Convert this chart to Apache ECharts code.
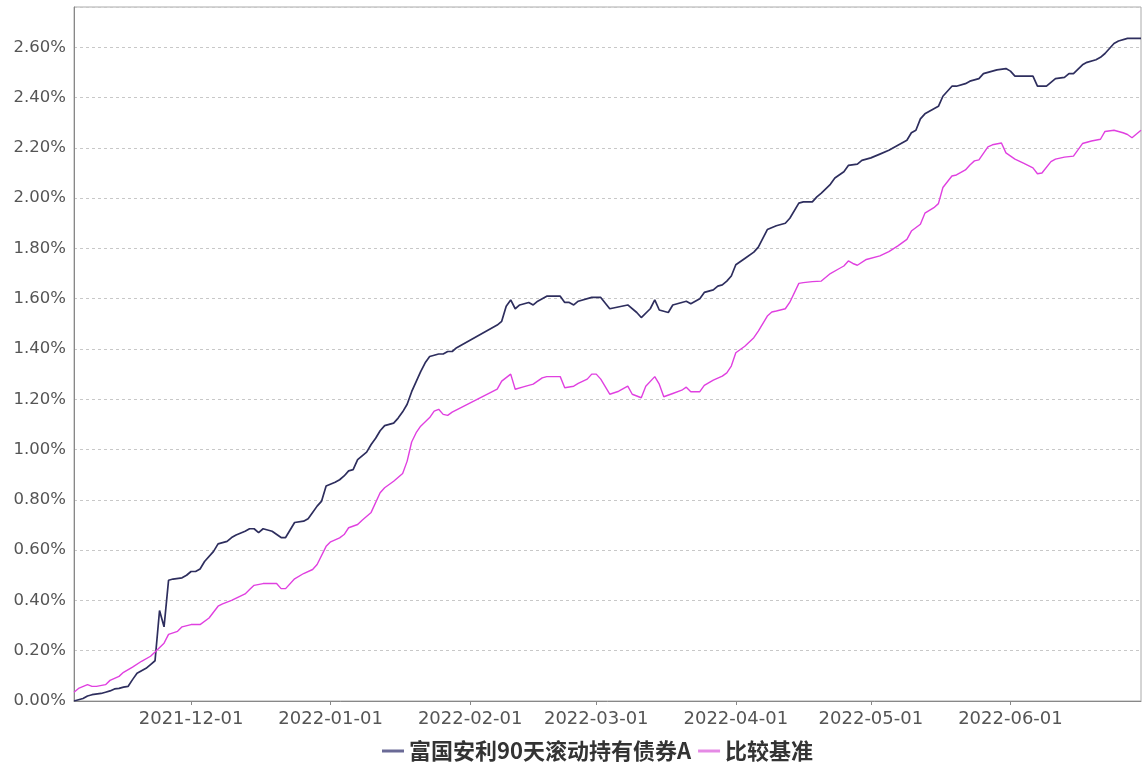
<!DOCTYPE html>
<html>
<head>
<meta charset="utf-8">
<script src="https://cdn.jsdelivr.net/npm/echarts@6/dist/echarts.min.js"></script>
<style>
  html, body { margin: 0; padding: 0; background: #fff; }
  #chart { width: 1145px; height: 764px; }
</style>
</head>
<body>
<div id="chart"></div>
<script>
// series names
const fundName = "富国安利90天滚动持有债券A";
const benchName = "比较基准";

// 富国安利 cumulative return, %
const fundDates = [
  "2021-11-05","2021-11-07","2021-11-08","2021-11-09","2021-11-11","2021-11-12","2021-11-13","2021-11-14",
  "2021-11-15","2021-11-16","2021-11-17","2021-11-18","2021-11-19","2021-11-21","2021-11-22","2021-11-23",
  "2021-11-24","2021-11-25","2021-11-26","2021-11-27","2021-11-29","2021-11-30","2021-12-01","2021-12-02",
  "2021-12-03","2021-12-04","2021-12-06","2021-12-07","2021-12-08","2021-12-09","2021-12-10","2021-12-11",
  "2021-12-13","2021-12-14","2021-12-15","2021-12-16","2021-12-17","2021-12-18","2021-12-19","2021-12-21",
  "2021-12-22","2021-12-24","2021-12-26","2021-12-27","2021-12-28","2021-12-29","2021-12-30","2021-12-31",
  "2022-01-02","2022-01-03","2022-01-04","2022-01-05","2022-01-06","2022-01-07","2022-01-09","2022-01-10",
  "2022-01-11","2022-01-12","2022-01-13","2022-01-15","2022-01-16","2022-01-17","2022-01-18","2022-01-19",
  "2022-01-20","2022-01-21","2022-01-22","2022-01-23","2022-01-25","2022-01-26","2022-01-27","2022-01-28",
  "2022-01-29","2022-02-07","2022-02-08","2022-02-09","2022-02-10","2022-02-11","2022-02-12","2022-02-14",
  "2022-02-15","2022-02-16","2022-02-18","2022-02-21","2022-02-22","2022-02-23","2022-02-24","2022-02-25",
  "2022-02-28","2022-03-02","2022-03-04","2022-03-08","2022-03-10","2022-03-11","2022-03-13","2022-03-14",
  "2022-03-15","2022-03-17","2022-03-18","2022-03-19","2022-03-21","2022-03-22","2022-03-23","2022-03-24",
  "2022-03-25","2022-03-27","2022-03-28","2022-03-29","2022-03-30","2022-03-31","2022-04-01","2022-04-03",
  "2022-04-05","2022-04-06","2022-04-08","2022-04-10","2022-04-12","2022-04-13","2022-04-15","2022-04-16",
  "2022-04-18","2022-04-19","2022-04-20","2022-04-22","2022-04-23","2022-04-25","2022-04-26","2022-04-28",
  "2022-04-29","2022-05-01","2022-05-03","2022-05-05","2022-05-07","2022-05-09","2022-05-10","2022-05-11",
  "2022-05-12","2022-05-13","2022-05-14","2022-05-16","2022-05-17","2022-05-19","2022-05-20","2022-05-22",
  "2022-05-23","2022-05-25","2022-05-26","2022-05-28","2022-05-29","2022-05-31","2022-06-01","2022-06-02",
  "2022-06-04","2022-06-06","2022-06-07","2022-06-09","2022-06-10","2022-06-11","2022-06-13","2022-06-14",
  "2022-06-15","2022-06-17","2022-06-18","2022-06-20","2022-06-21","2022-06-22","2022-06-24","2022-06-25",
  "2022-06-27","2022-06-30"
];
const fundValues = [
  0.00,0.01,0.02,0.025,0.03,0.035,0.04,0.048,
  0.05,0.055,0.058,0.085,0.11,0.13,0.145,0.16,
  0.36,0.295,0.48,0.485,0.49,0.50,0.515,0.515,
  0.525,0.555,0.595,0.625,0.63,0.635,0.65,0.66,
  0.675,0.685,0.685,0.67,0.685,0.68,0.675,0.65,
  0.65,0.71,0.715,0.725,0.75,0.775,0.795,0.855,
  0.87,0.88,0.895,0.915,0.92,0.96,0.99,1.02,
  1.045,1.075,1.095,1.105,1.125,1.15,1.18,1.23,
  1.27,1.31,1.345,1.37,1.38,1.38,1.39,1.39,
  1.405,1.495,1.51,1.57,1.595,1.56,1.575,1.585,
  1.575,1.59,1.61,1.61,1.585,1.585,1.575,1.59,
  1.605,1.605,1.56,1.575,1.545,1.525,1.56,1.595,
  1.555,1.545,1.575,1.58,1.59,1.58,1.59,1.60,
  1.625,1.635,1.65,1.655,1.67,1.69,1.735,1.76,
  1.785,1.805,1.875,1.89,1.90,1.92,1.98,1.985,
  1.985,2.005,2.02,2.055,2.08,2.105,2.13,2.135,
  2.15,2.16,2.175,2.19,2.21,2.23,2.26,2.27,
  2.315,2.335,2.345,2.365,2.405,2.445,2.445,2.455,
  2.465,2.475,2.495,2.505,2.51,2.515,2.505,2.485,
  2.485,2.485,2.445,2.445,2.46,2.475,2.48,2.495,
  2.495,2.53,2.54,2.55,2.56,2.575,2.615,2.625,
  2.635,2.635
];

// 比较基准 cumulative return, %
const benchDates = [
  "2021-11-05","2021-11-06","2021-11-08","2021-11-09","2021-11-10","2021-11-12","2021-11-13","2021-11-15",
  "2021-11-16","2021-11-18","2021-11-20","2021-11-22","2021-11-23","2021-11-25","2021-11-26","2021-11-28",
  "2021-11-29","2021-12-01","2021-12-03","2021-12-05","2021-12-07","2021-12-08","2021-12-10","2021-12-13",
  "2021-12-14","2021-12-15","2021-12-17","2021-12-20","2021-12-21","2021-12-22","2021-12-24","2021-12-26",
  "2021-12-28","2021-12-29","2021-12-31","2022-01-01","2022-01-03","2022-01-04","2022-01-05","2022-01-07",
  "2022-01-08","2022-01-10","2022-01-12","2022-01-13","2022-01-15","2022-01-17","2022-01-18","2022-01-19",
  "2022-01-20","2022-01-21","2022-01-23","2022-01-24","2022-01-25","2022-01-26","2022-01-27","2022-01-28",
  "2022-02-07","2022-02-08","2022-02-10","2022-02-11","2022-02-13","2022-02-15","2022-02-17","2022-02-18",
  "2022-02-21","2022-02-22","2022-02-24","2022-02-25","2022-02-27","2022-02-28","2022-03-01","2022-03-02",
  "2022-03-04","2022-03-06","2022-03-08","2022-03-09","2022-03-11","2022-03-12","2022-03-14","2022-03-15",
  "2022-03-16","2022-03-18","2022-03-20","2022-03-21","2022-03-22","2022-03-24","2022-03-25","2022-03-27",
  "2022-03-29","2022-03-30","2022-03-31","2022-04-01","2022-04-03","2022-04-05","2022-04-06","2022-04-08",
  "2022-04-09","2022-04-10","2022-04-12","2022-04-13","2022-04-15","2022-04-16","2022-04-18","2022-04-20",
  "2022-04-22","2022-04-24","2022-04-25","2022-04-26","2022-04-27","2022-04-28","2022-04-30","2022-05-03",
  "2022-05-05","2022-05-07","2022-05-09","2022-05-10","2022-05-12","2022-05-13","2022-05-15","2022-05-16",
  "2022-05-17","2022-05-19","2022-05-20","2022-05-22","2022-05-23","2022-05-24","2022-05-25","2022-05-27",
  "2022-05-28","2022-05-30","2022-05-31","2022-06-02","2022-06-04","2022-06-06","2022-06-07","2022-06-08",
  "2022-06-10","2022-06-11","2022-06-13","2022-06-15","2022-06-17","2022-06-19","2022-06-21","2022-06-22",
  "2022-06-24","2022-06-26","2022-06-27","2022-06-28","2022-06-30"
];
const benchValues = [
  0.035,0.05,0.065,0.058,0.058,0.065,0.082,0.098,
  0.114,0.135,0.158,0.178,0.195,0.23,0.265,0.277,
  0.295,0.304,0.304,0.33,0.377,0.386,0.40,0.426,
  0.443,0.46,0.467,0.467,0.447,0.447,0.486,0.507,
  0.523,0.543,0.615,0.633,0.649,0.662,0.689,0.702,
  0.719,0.75,0.828,0.848,0.874,0.905,0.954,1.03,
  1.067,1.093,1.127,1.153,1.16,1.14,1.136,1.149,
  1.24,1.272,1.30,1.24,1.25,1.26,1.285,1.29,
  1.29,1.246,1.252,1.263,1.28,1.30,1.30,1.28,
  1.22,1.232,1.252,1.22,1.206,1.252,1.29,1.26,
  1.21,1.223,1.236,1.248,1.23,1.23,1.255,1.276,
  1.292,1.305,1.332,1.385,1.411,1.445,1.471,1.531,
  1.547,1.551,1.56,1.586,1.661,1.664,1.668,1.67,
  1.70,1.72,1.73,1.75,1.74,1.733,1.756,1.77,
  1.787,1.81,1.836,1.869,1.896,1.94,1.962,1.978,
  2.042,2.088,2.092,2.112,2.132,2.148,2.152,2.204,
  2.212,2.219,2.18,2.155,2.138,2.12,2.097,2.10,
  2.145,2.155,2.163,2.167,2.217,2.227,2.234,2.265,
  2.27,2.26,2.253,2.24,2.27
];

const xMin = "2021-11-05";
const xMax = "2022-06-30";
const yMax = 2.76;
const yStep = 0.2;

const zip = (dates, vals) => dates.map((d, i) => [d, vals[i]]);
const DAY = 24 * 3600 * 1000;

const chart = echarts.init(document.getElementById("chart"));

chart.setOption({
  animation: false,
  backgroundColor: "#fff",
  grid: {
    left: 74,
    right: 4,
    top: 7,
    bottom: 63,
    show: true,
    borderColor: "#aaa",
    borderWidth: 1,
  },
  legend: {
    left: 377,
    top: 735,
    itemWidth: 22,
    itemHeight: 3,
    itemGap: 7,
    icon: "rect",
    textStyle: {
      fontFamily: "Noto Sans CJK SC",
      fontSize: 22,
      fontWeight: "bold",
      color: "#333",
    },
    data: [
      { name: fundName, itemStyle: { color: "#6a6a96" } },
      { name: benchName, itemStyle: { color: "#e58ae5" } },
    ],
  },
  xAxis: {
    type: "time",
    min: xMin,
    max: xMax,
    splitNumber: 8,
    minInterval: 28 * DAY,
    maxInterval: 31 * DAY,
    axisLine: { lineStyle: { color: "#888", width: 1 } },
    axisTick: { show: true, length: 4, lineStyle: { color: "#888" } },
    axisLabel: {
      formatter: "{yyyy}-{MM}-{dd}",
      fontFamily: "DejaVu Sans",
      fontSize: 18,
      color: "#555",
      margin: 9,
      showMinLabel: false,
      showMaxLabel: false,
    },
    splitLine: { show: false },
  },
  yAxis: {
    type: "value",
    min: 0,
    max: yMax,
    interval: yStep,
    axisLine: { show: true, lineStyle: { color: "#888", width: 1 } },
    axisTick: { show: false },
    axisLabel: {
      formatter: (v) => v.toFixed(2) + "%",
      fontFamily: "DejaVu Sans",
      fontSize: 16.5,
      color: "#555",
      margin: 8,
      showMaxLabel: false,
    },
    splitLine: {
      show: true,
      lineStyle: { color: "#c8c8c8", type: [3, 3], width: 1 },
    },
  },
  series: [
    {
      name: fundName,
      type: "line",
      data: zip(fundDates, fundValues),
      showSymbol: false,
      lineStyle: { color: "#2e2e5e", width: 1.7 },
      itemStyle: { color: "#2e2e5e" },
    },
    {
      name: benchName,
      type: "line",
      data: zip(benchDates, benchValues),
      showSymbol: false,
      lineStyle: { color: "#e040e0", width: 1.4 },
      itemStyle: { color: "#e040e0" },
    },
  ],
});
</script>
</body>
</html>
